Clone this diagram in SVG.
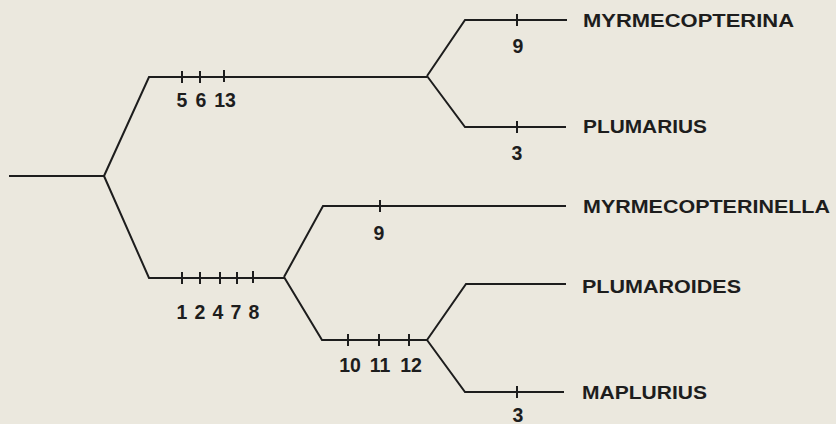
<svg xmlns="http://www.w3.org/2000/svg" width="836" height="424" viewBox="0 0 836 424">
<style>
.br{fill:none;stroke:#1d1d1d;stroke-width:2;stroke-linejoin:miter}
.tk{stroke:#1d1d1d;stroke-width:2}
.nm{font-family:"Liberation Sans",Arial,sans-serif;font-size:18.5px;font-weight:bold;fill:#1d1d1d}
.ch{font-family:"Liberation Sans",Arial,sans-serif;font-size:19.5px;font-weight:bold;fill:#1d1d1d;text-anchor:middle}
</style>
<rect width="836" height="424" fill="#ebe8de"/>
<g id="connectors">
<path class="br" d="M9,176 H104"/>
<path class="br" d="M104,176 L149,77 H427"/>
<path class="br" d="M427,76 L465,20 H567"/>
<path class="br" d="M427,76 L465,127 H566"/>
<path class="br" d="M104,176 L149,278 H284"/>
<path class="br" d="M284,277 L323,206 H566"/>
<path class="br" d="M284,277 L322,340 H427"/>
<path class="br" d="M427,340 L466,284 H566"/>
<path class="br" d="M427,340 L465,392 H564"/>
</g>
<g id="branch-5-6-13">
<path class="tk" d="M182,71 V83 M200,71 V83 M224,70 V82"/>
<text class="ch" x="182" y="107">5</text>
<text class="ch" x="201" y="107">6</text>
<text class="ch" x="225" y="107">13</text>
</g>
<g id="branch-1-2-4-7-8">
<path class="tk" d="M182,272 V284 M200,272 V284 M220,272 V284 M237,272 V284 M253,271 V283"/>
<text class="ch" x="182" y="319">1</text>
<text class="ch" x="200" y="319">2</text>
<text class="ch" x="218" y="319">4</text>
<text class="ch" x="236" y="319">7</text>
<text class="ch" x="254" y="319">8</text>
</g>
<g id="branch-10-11-12">
<path class="tk" d="M348,334 V346 M379,334 V346 M409,334 V346"/>
<text class="ch" x="350" y="372">10</text>
<text class="ch" x="380" y="372">11</text>
<text class="ch" x="411" y="372">12</text>
</g>
<g id="node-myrmecopterina">
<path class="tk" d="M517,14 V26"/>
<text class="ch" x="518" y="53">9</text>
<text class="nm" x="583" y="27" textLength="211" lengthAdjust="spacingAndGlyphs">MYRMECOPTERINA</text>
</g>
<g id="node-plumarius">
<path class="tk" d="M517,121 V133"/>
<text class="ch" x="517" y="160">3</text>
<text class="nm" x="583" y="133" textLength="124" lengthAdjust="spacingAndGlyphs">PLUMARIUS</text>
</g>
<g id="node-myrmecopterinella">
<path class="tk" d="M380,200 V212"/>
<text class="ch" x="379" y="240">9</text>
<text class="nm" x="583" y="213" textLength="247" lengthAdjust="spacingAndGlyphs">MYRMECOPTERINELLA</text>
</g>
<g id="node-plumaroides">
<text class="nm" x="582" y="293" textLength="159" lengthAdjust="spacingAndGlyphs">PLUMAROIDES</text>
</g>
<g id="node-maplurius">
<path class="tk" d="M517,386 V398"/>
<text class="ch" x="518" y="422">3</text>
<text class="nm" x="582" y="399" textLength="125" lengthAdjust="spacingAndGlyphs">MAPLURIUS</text>
</g>
</svg>
